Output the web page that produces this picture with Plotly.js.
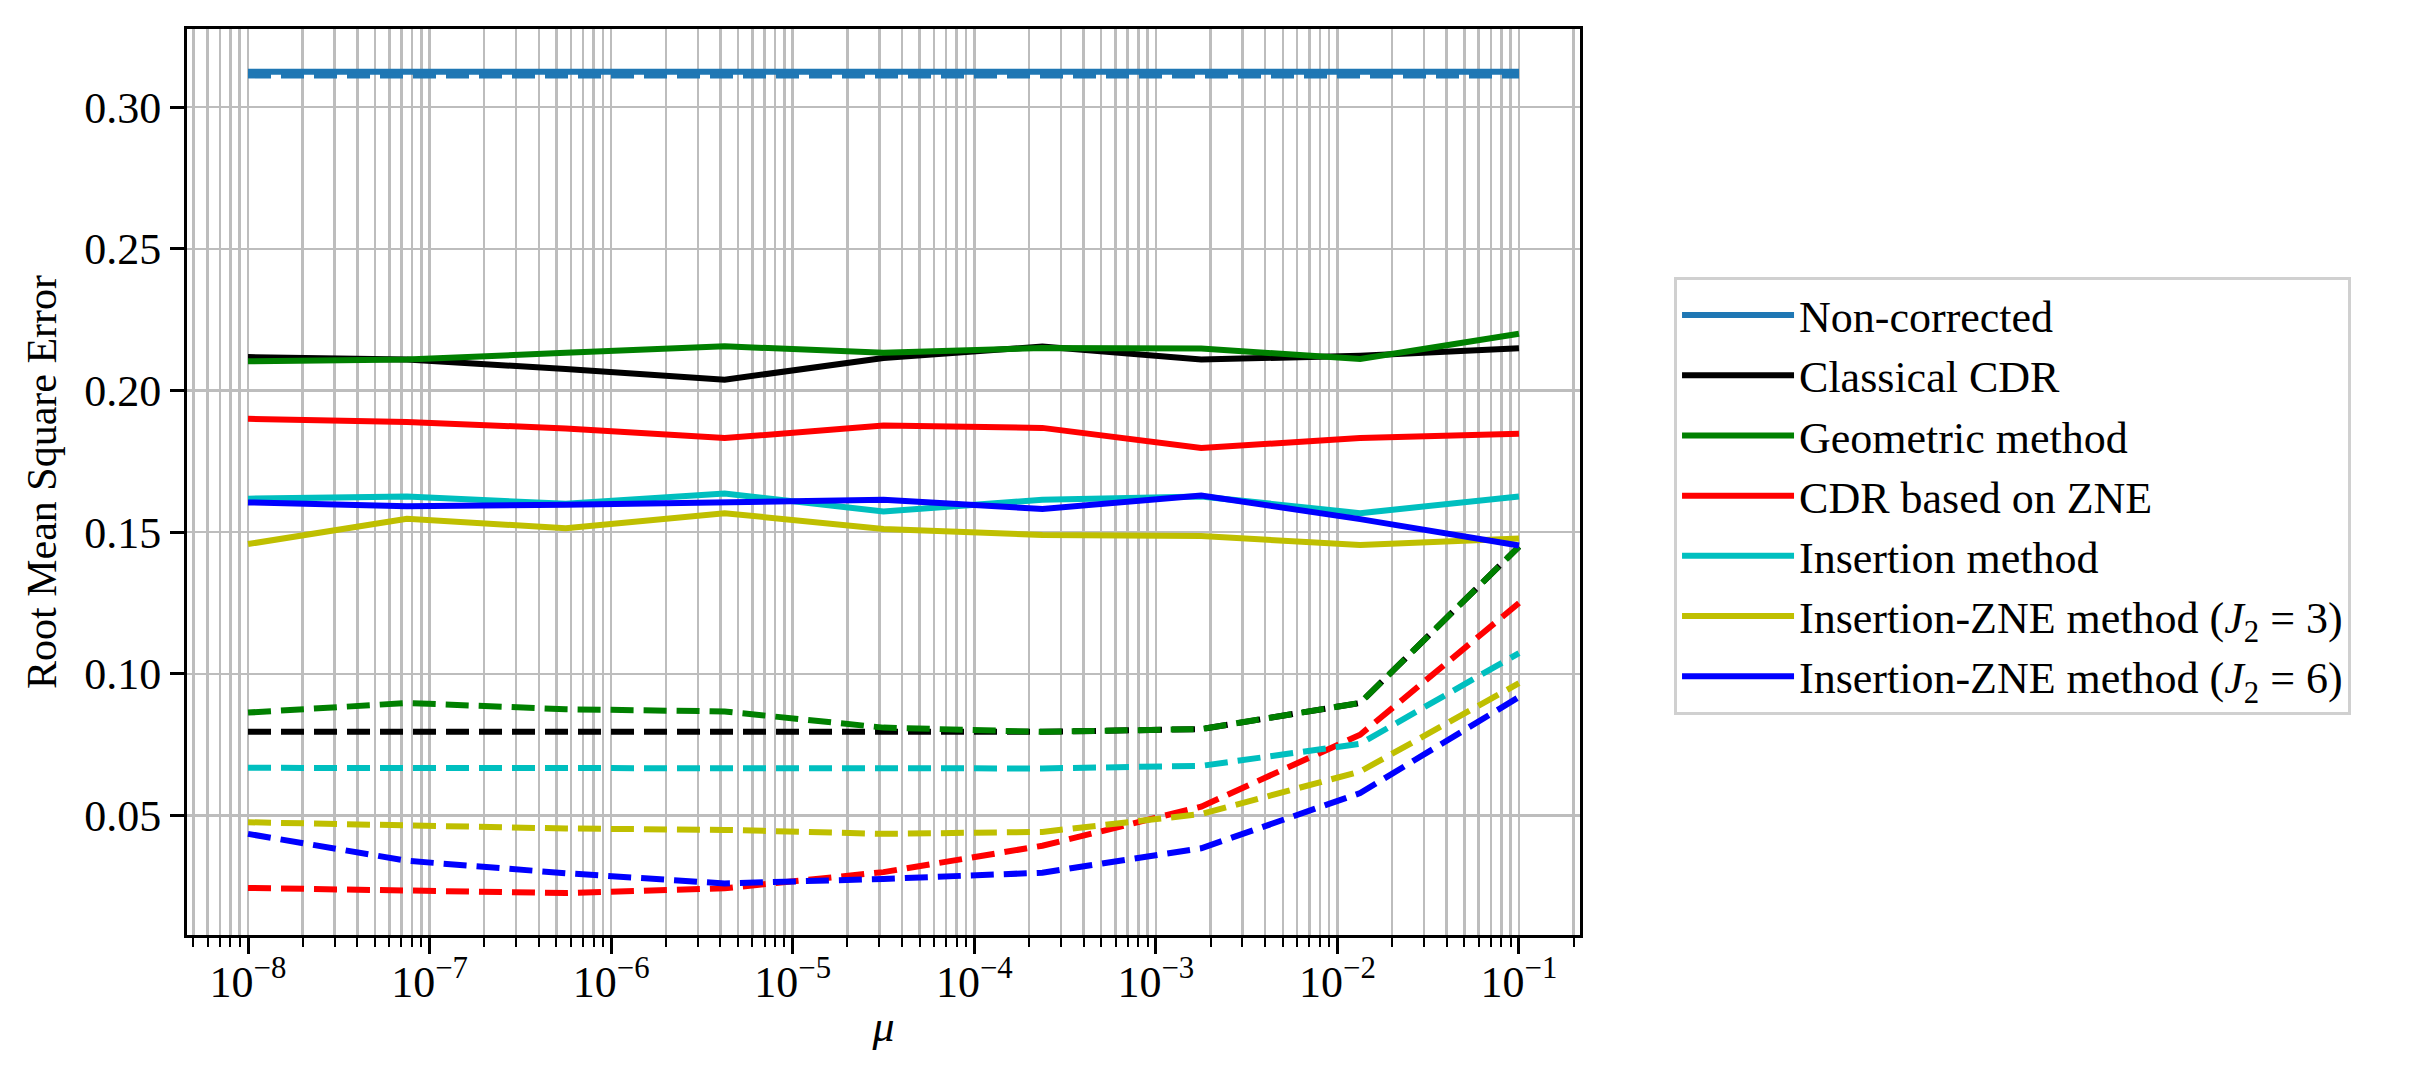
<!DOCTYPE html>
<html>
<head>
<meta charset="utf-8">
<script src="https://cdn.plot.ly/plotly-3.0.1.min.js"></script>
<style>
  html, body { margin: 0; padding: 0; background: #fff; }
  #plot { width: 2427px; height: 1085px; }
</style>
</head>
<body>
<div id="plot"></div>
<script>
// wartosci mu (os x, log)
const mu = [1e-8, 7.499e-8, 5.623e-7, 4.217e-6, 3.162e-5, 2.371e-4, 1.778e-3, 1.334e-2, 1e-1];

// linie ciagle
const noncorr_solid  = [0.3125, 0.3125, 0.3125, 0.3125, 0.3125, 0.3125, 0.3125, 0.3125, 0.3125];
const cdr_solid      = [0.2118, 0.2109, 0.2076, 0.2038, 0.2115, 0.2155, 0.2109, 0.2123, 0.2149];
const geom_solid     = [0.2103, 0.2109, 0.2133, 0.2156, 0.2133, 0.2150, 0.2148, 0.2111, 0.2200];
const zne_solid      = [0.1900, 0.1889, 0.1866, 0.1832, 0.1876, 0.1868, 0.1797, 0.1832, 0.1847];
const ins_solid      = [0.1618, 0.1626, 0.1600, 0.1636, 0.1573, 0.1614, 0.1626, 0.1567, 0.1626];
const ins3_solid     = [0.1458, 0.1547, 0.1514, 0.1567, 0.1511, 0.1490, 0.1486, 0.1455, 0.1478];
const ins6_solid     = [0.1605, 0.1591, 0.1597, 0.1608, 0.1614, 0.1582, 0.1629, 0.1546, 0.1453];

// linie przerywane
const noncorr_dash   = [0.3112, 0.3112, 0.3112, 0.3112, 0.3112, 0.3112, 0.3112, 0.3112, 0.3112];
const cdr_dash       = [0.0795, 0.0795, 0.0795, 0.0795, 0.0795, 0.0795, 0.0805, 0.0897, 0.1449];
const geom_dash      = [0.0863, 0.0897, 0.0875, 0.0867, 0.0810, 0.0795, 0.0805, 0.0897, 0.1449];
const zne_dash       = [0.0244, 0.0236, 0.0226, 0.0243, 0.0300, 0.0393, 0.0531, 0.0785, 0.1250];
const ins_dash       = [0.0668, 0.0668, 0.0668, 0.0667, 0.0667, 0.0666, 0.0675, 0.0753, 0.1073];
const ins3_dash      = [0.0476, 0.0463, 0.0454, 0.0449, 0.0435, 0.0442, 0.0505, 0.0655, 0.0967];
const ins6_dash      = [0.0435, 0.0340, 0.0296, 0.0260, 0.0276, 0.0298, 0.0384, 0.0579, 0.0918];

const names = [
  "Non-corrected",
  "Classical CDR",
  "Geometric method",
  "CDR based on ZNE",
  "Insertion method",
  "Insertion-ZNE method (<i>J</i><sub>2</sub> = 3)",
  "Insertion-ZNE method (<i>J</i><sub>2</sub> = 6)"
];
const colors = ["#1f77b4", "#000000", "#008000", "#ff0000", "#00bfbf", "#bfbf00", "#0000ff"];

// etykiety osi
const xMajor = [1e-8, 1e-7, 1e-6, 1e-5, 1e-4, 1e-3, 1e-2, 1e-1];
const xMajorText = ["10<sup>\u22128</sup>", "10<sup>\u22127</sup>", "10<sup>\u22126</sup>", "10<sup>\u22125</sup>",
                    "10<sup>\u22124</sup>", "10<sup>\u22123</sup>", "10<sup>\u22122</sup>", "10<sup>\u22121</sup>"];
const yTicks = [0.05, 0.10, 0.15, 0.20, 0.25, 0.30];

// podzialka pomocnicza 2..9 w kazdej dekadzie
let xMinor = [];
for (let e = -9; e <= -1; e++) {
  for (let m = 2; m <= 9; m++) xMinor.push(m * Math.pow(10, e));
}

const solids = [noncorr_solid, cdr_solid, geom_solid, zne_solid, ins_solid, ins3_solid, ins6_solid];
const dashes = [noncorr_dash, cdr_dash, geom_dash, zne_dash, ins_dash, ins3_dash, ins6_dash];

let data = [];
for (let i = 0; i < solids.length; i++) {
  data.push({
    type: "scatter", mode: "lines", x: mu, y: solids[i], name: names[i],
    line: {color: colors[i], width: 6}
  });
  data.push({
    type: "scatter", mode: "lines", x: mu, y: dashes[i], name: names[i], showlegend: false,
    line: {color: colors[i], width: 6, dash: "23px,10px"}
  });
}

const font = "Liberation Serif, Times New Roman, serif";
const gridc = "#bdbdbd";

const layout = {
  width: 2427, height: 1085,
  margin: {l: 187, r: 847, t: 29, b: 150},
  paper_bgcolor: "#ffffff", plot_bgcolor: "#ffffff",
  font: {family: font, size: 44, color: "#000"},
  showlegend: true,
  legend: {
    x: 1.0675, xanchor: "left", y: 0.7263, yanchor: "top",
    bgcolor: "#ffffff", bordercolor: "#d0d0d0", borderwidth: 3,
    itemwidth: 112,
    font: {family: font, size: 44, color: "#000"}
  },
  xaxis: {
    type: "log", range: [-8.336, -0.664],
    tickmode: "array", tickvals: xMajor, ticktext: xMajorText,
    ticks: "outside", ticklen: 16, tickwidth: 3, tickcolor: "#000",
    tickfont: {family: font, size: 44}, ticklabelstandoff: -10,
    showgrid: true, gridcolor: gridc, gridwidth: 2.5,
    showline: true, linecolor: "#000", linewidth: 3, mirror: true,
    zeroline: false,
    minor: {tickmode: "array", tickvals: xMinor, ticks: "outside", ticklen: 9, tickwidth: 2,
            tickcolor: "#000", showgrid: true, gridcolor: gridc, gridwidth: 2.5},
    title: {text: "<i>\u03bc</i>", font: {family: font, size: 44}, standoff: 5}
  },
  yaxis: {
    range: [0.0078, 0.3276],
    tickmode: "array", tickvals: yTicks, tickformat: ".2f",
    ticks: "outside", ticklen: 14, tickwidth: 3, tickcolor: "#000",
    tickfont: {family: font, size: 44},
    showgrid: true, gridcolor: gridc, gridwidth: 2.5,
    showline: true, linecolor: "#000", linewidth: 3, mirror: true,
    zeroline: false,
    title: {text: "Root Mean Square Error", font: {family: font, size: 42}, standoff: 15}
  }
};

Plotly.newPlot("plot", data, layout, {staticPlot: true});
</script>
</body>
</html>
